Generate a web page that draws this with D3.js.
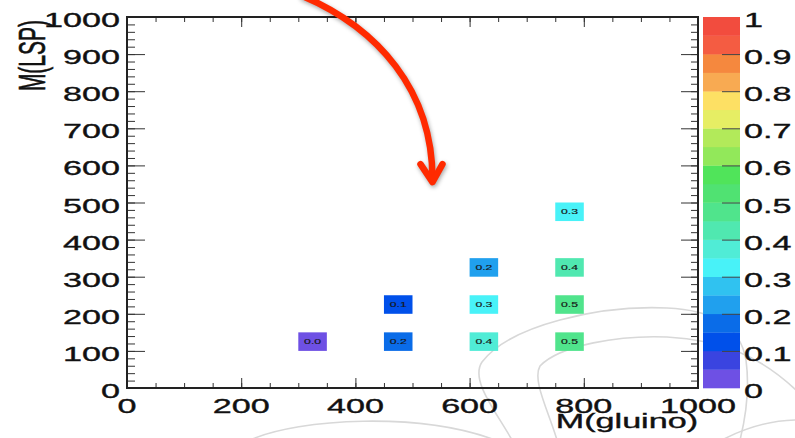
<!DOCTYPE html>
<html lang="en">
<head>
    <meta charset="UTF-8">
    <title>M(gluino) vs M(LSP)</title>
    <script src="https://d3js.org/d3.v7.min.js"></script>
    <style>
        body { margin: 0; background: #fff; }
        text { font-family: "Liberation Sans", Arial, sans-serif; fill: #111; stroke: #111; stroke-width: 0.35px; }
    </style>
</head>
<body>
    <svg width="795" height="438"></svg>

    <script>
        // bins are 50 wide in both directions, value = fraction in that cell
        var cellGluino = [300, 450, 450, 600, 600, 600, 750, 750, 750, 750],
            cellLSP    = [100, 100, 200, 100, 200, 300, 100, 200, 300, 450],
            cellValue  = [0.03, 0.18, 0.12, 0.38, 0.31, 0.22, 0.47, 0.48, 0.42, 0.32],
            binWidth = 50;

        var xTickLabels = [0, 200, 400, 600, 800, 1000],
            yTickLabels = [0, 100, 200, 300, 400, 500, 600, 700, 800, 900, 1000],
            zTickLabels = [0, 0.1, 0.2, 0.3, 0.4, 0.5, 0.6, 0.7, 0.8, 0.9, 1];

        // 20 contour colours, bottom (0) to top (1)
        var palette = ["#6e50e4", "#3a44e0", "#0050ea", "#0a6ce8", "#20a0ee",
                       "#30c2f0", "#48f2f8", "#50ecd6", "#50e8b0", "#50e48c",
                       "#50e272", "#50e45a", "#92e85a", "#b2ea5a", "#e6ee64",
                       "#fde064", "#f8aa52", "#f5883e", "#f45c42", "#f24c3e"];

        var svg = d3.select("svg"),
            stretch = 1.75;   // the picture is squashed sideways, text follows

        var x = d3.scaleLinear().domain([0, 1000]).range([127, 698]),
            y = d3.scaleLinear().domain([0, 1000]).range([388, 17]),
            z = d3.scaleLinear().domain([0, 1]).range([388, 17]),
            colour = d3.scaleQuantize().domain([0, 1]).range(palette);

        function label(g, tx, ty, str, size, anchor) {
            return g.append("text")
                .attr("transform", "translate(" + tx + "," + ty + ") scale(" + stretch + ",1)")
                .attr("text-anchor", anchor)
                .style("font-size", size + "px")
                .text(str);
        }

        // faint watermark arcs behind everything
        var marks = svg.append("g").attr("fill", "none").attr("stroke", "#d8d8d8").attr("stroke-width", 1.6);
        marks.append("path").attr("d", "M512,440 C495,410 470,380 482,362 C510,325 600,305 667,308 C712,310 740,325 746,360 C750,390 745,420 740,440");
        marks.append("path").attr("d", "M557,440 C548,410 532,380 540,366 C560,345 620,335 667,337 C720,340 760,355 798,392");
        marks.append("path").attr("d", "M250,440 C300,418 420,412 495,440");
        marks.append("path").attr("d", "M722,440 C745,428 770,420 798,420");

        // cells
        svg.append("g").selectAll("rect")
            .data(cellValue)
            .enter().append("rect")
              .attr("x", function(d, i) { return x(cellGluino[i]); })
              .attr("y", function(d, i) { return y(cellLSP[i] + binWidth); })
              .attr("width", function(d, i) { return x(cellGluino[i] + binWidth) - x(cellGluino[i]); })
              .attr("height", function(d, i) { return y(cellLSP[i]) - y(cellLSP[i] + binWidth); })
              .attr("fill", function(d) { return colour(d); });

        var cellText = svg.append("g");
        cellValue.forEach(function(d, i) {
            label(cellText, x(cellGluino[i] + binWidth / 2), y(cellLSP[i] + binWidth / 2) + 2.5, d.toFixed(1), 7, "middle")
                .style("fill", "#1a1a1a").style("stroke-width", "0.15px");
        });

        // axes ticks, all pointing inwards
        function ticks(axis, values, size, tx, ty) {
            var g = svg.append("g")
                .attr("transform", "translate(" + tx + "," + ty + ")")
                .call(axis.tickValues(values).tickSize(size).tickFormat(""));
            g.select(".domain").remove();
            g.selectAll("line").attr("stroke", "#333");
        }
        var minorX = d3.range(0, 1001, 50), minorY = d3.range(0, 1001, 20);
        ticks(d3.axisTop(x), minorX, 5, 0, y(0));
        ticks(d3.axisTop(x), xTickLabels, 10, 0, y(0));
        ticks(d3.axisBottom(x), minorX, 5, 0, y(1000));
        ticks(d3.axisBottom(x), xTickLabels, 10, 0, y(1000));
        ticks(d3.axisRight(y), minorY, 8, x(0), 0);
        ticks(d3.axisRight(y), yTickLabels, 18, x(0), 0);
        ticks(d3.axisLeft(y), minorY, 7, x(1000), 0);
        ticks(d3.axisLeft(y), yTickLabels, 17, x(1000), 0);

        // frame
        svg.append("rect")
            .attr("x", x(0)).attr("y", y(1000))
            .attr("width", x(1000) - x(0)).attr("height", y(0) - y(1000))
            .attr("fill", "none").attr("stroke", "#222").attr("stroke-width", 2);

        // tick labels
        var lab = svg.append("g");
        xTickLabels.forEach(function(v) { label(lab, x(v), 413, v, 19.5, "middle"); });
        yTickLabels.forEach(function(v) { label(lab, 120, y(v) + 10, v, 19.5, "end"); });

        // axis titles
        label(lab, x(1000), 428, "M(gluino)", 19.5, "end");
        lab.append("text")
            .attr("transform", "translate(45,20) scale(" + stretch + ",1) rotate(-90)")
            .attr("text-anchor", "end")
            .style("font-size", "21px")
            .text("M(LSP)");

        // colour bar
        var bar = svg.append("g");
        bar.selectAll("rect")
            .data(palette)
            .enter().append("rect")
              .attr("x", 703)
              .attr("y", function(d, i) { return z((i + 1) / palette.length); })
              .attr("width", 37)
              .attr("height", function(d, i) { return z(i / palette.length) - z((i + 1) / palette.length) + 0.3; })
              .attr("fill", function(d) { return d; });
        var zAxis = bar.append("g")
            .attr("transform", "translate(740,0)")
            .call(d3.axisLeft(z).tickValues(zTickLabels.slice(1, -1)).tickSize(18).tickFormat(""));
        zAxis.select(".domain").remove();
        zAxis.selectAll("line").attr("stroke", "#444");
        zTickLabels.forEach(function(v) { label(bar, 744, z(v) + 10, v, 19.5, "start"); });

        // red annotation arrow pointing into the empty region
        var tip = [x(535), y(555)];
        var arrow = svg.append("g")
            .attr("fill", "none").attr("stroke", "#ff2a00").attr("stroke-width", 6.5)
            .attr("stroke-linecap", "round").attr("stroke-linejoin", "round")
            .style("filter", "drop-shadow(1px 2px 2px rgba(0,0,0,0.35))");
        arrow.append("path")
            .attr("d", "M" + (tip[0] - 130) + ",-4 C" + (tip[0] - 55) + ",28 " + tip[0] + ",90 " + tip[0] + "," + (tip[1] - 3));
        arrow.append("path")
            .attr("d", "M" + (tip[0] - 12) + "," + (tip[1] - 18) + " L" + tip[0] + "," + tip[1] + " L" + (tip[0] + 10) + "," + (tip[1] - 18));
    </script>
</body>
</html>
